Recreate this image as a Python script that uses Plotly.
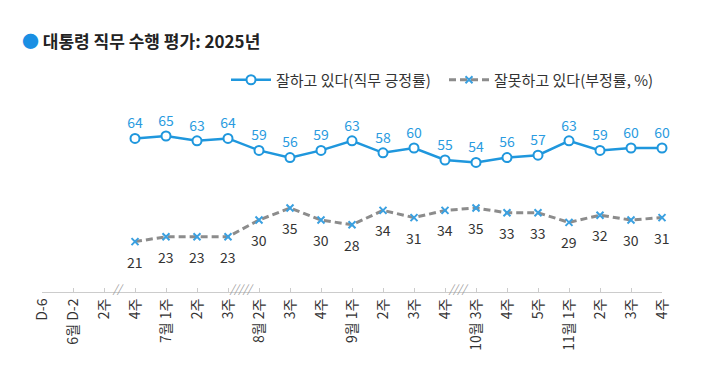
import plotly.graph_objects as go

categories = ["D-6", "6월 D-2", "2주", "4주", "7월 1주", "2주", "3주", "8월 2주", "3주", "4주",
              "9월 1주", "2주", "3주", "4주", "10월 3주", "4주", "5주", "11월 1주", "2주", "3주", "4주"]
approve = [None, None, None, 64, 65, 63, 64, 59, 56, 59, 63, 58, 60, 55, 54, 56, 57, 63, 59, 60, 60]
disapprove = [None, None, None, 21, 23, 23, 23, 30, 35, 30, 28, 34, 31, 34, 35, 33, 33, 29, 32, 30, 31]
breaks = [(2.45, "//"), (6.45, "/////"), (13.45, "////")]

x = list(range(len(categories)))
FONT = "Noto Sans CJK KR"
BLUE = "#1f97dd"

# page body has an 8px default margin, so the figure is sized/offset accordingly
W, H = 712, 364

fig = go.Figure()
fig.add_trace(go.Scatter(
    x=x, y=approve, name="잘하고 있다(직무 긍정률)",
    mode="lines+markers+text",
    line=dict(color=BLUE, width=2.5),
    marker=dict(symbol="circle", size=9, color="white", line=dict(color=BLUE, width=2)),
    text=[str(v) if v is not None else "" for v in approve],
    textposition="top center",
    textfont=dict(family=FONT, size=14, color="#2a9be0"),
    cliponaxis=False,
))
fig.add_trace(go.Scatter(
    x=x, y=disapprove, name="잘못하고 있다(부정률, %)",
    mode="lines+markers",
    line=dict(color="#8c8c8c", width=3, dash="7px,4px"),
    marker=dict(symbol="x-thin", size=7, color="#3aa0e0", line=dict(color="#3aa0e0", width=2)),
    cliponaxis=False,
))

annotations = []
for xi, v in zip(x, disapprove):
    if v is None:
        continue
    annotations.append(dict(x=xi, y=v, xref="x", yref="y", text=str(v), showarrow=False,
                            yshift=-20, font=dict(family=FONT, size=14, color="#333333")))
for bx, bt in breaks:
    annotations.append(dict(x=bx, y=0, xref="x", yref="paper", text="<i>" + bt + "</i>",
                            showarrow=False, yshift=-6,
                            font=dict(family=FONT, size=11, color="#999999")))

fig.update_layout(
    width=W, height=H,
    margin=dict(l=34, r=58, t=104, b=80, autoexpand=False),
    paper_bgcolor="white", plot_bgcolor="white",
    font=dict(family=FONT, color="#333333"),
    title=dict(
        text="<span style='color:#1a8fe3'>●</span> <b>대통령 직무 수행 평가: 2025년</b>",
        xref="container", yref="container", x=14/W, xanchor="left",
        y=1 - 34/H, yanchor="middle",
        font=dict(family=FONT, size=17, color="#222222"),
    ),
    legend=dict(orientation="h", x=1.0, xanchor="right", y=(292-80)/180, yanchor="middle",
                font=dict(family=FONT, size=15, color="#333333"), itemwidth=40,
                entrywidth=163, bgcolor="rgba(0,0,0,0)"),
    showlegend=True,
    annotations=annotations,
    xaxis=dict(range=[0, 20], tickmode="array", tickvals=x, ticktext=categories,
               tickangle=-90, showgrid=False, zeroline=False, automargin=False,
               showline=True, linecolor="#cccccc", linewidth=1,
               ticks="inside", ticklen=4, tickcolor="#cccccc",
               tickfont=dict(family=FONT, size=14, color="#333333")),
    yaxis=dict(range=[0, 75], visible=False, showgrid=False, zeroline=False, automargin=False),
)

fig.write_html("out.html")
